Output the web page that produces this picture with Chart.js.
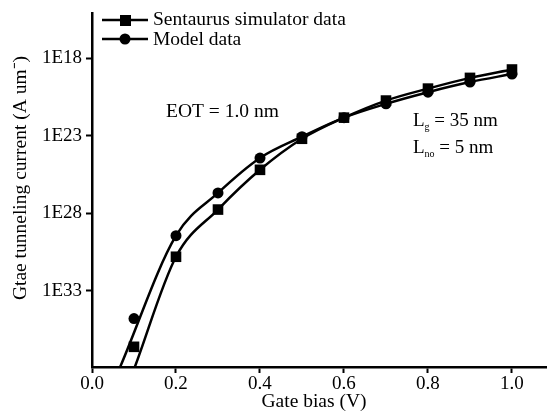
<!DOCTYPE html>
<html>
<head>
<meta charset="utf-8">
<script src="https://cdn.jsdelivr.net/npm/chart.js@4.4.1/dist/chart.umd.min.js"></script>
<style>
  html, body { margin: 0; padding: 0; background: #fff; }
  #wrap { width: 547px; height: 413px; }
</style>
</head>
<body>
<div id="wrap"><canvas id="chart" width="547" height="413"></canvas></div>
<script>
// Gate bias (V) where the markers sit
const biasValues = [0.1, 0.2, 0.3, 0.4, 0.5, 0.6, 0.7, 0.8, 0.9, 1.0];
// exponents (label 1E18 <-> -18)
const simValues = [-36.6, -30.8, -27.76, -25.2, -23.2, -21.84, -20.74, -19.97, -19.28, -18.74];
const modelValues = [-34.78, -29.44, -26.69, -24.44, -23.07, -21.84, -20.95, -20.2, -19.55, -19.03];

// the drawn curves (they run down to the axis)
const simCurveX = [0.102, 0.2, 0.3, 0.4, 0.5, 0.6, 0.7, 0.8, 0.9, 1.0];
const simCurveY = [-37.9, -30.8, -27.76, -25.2, -23.2, -21.84, -20.74, -19.97, -19.28, -18.74];
const modelCurveX = [0.067, 0.2, 0.3, 0.4, 0.5, 0.6, 0.7, 0.8, 0.9, 1.0];
const modelCurveY = [-37.9, -29.44, -26.69, -24.44, -23.07, -21.84, -20.95, -20.2, -19.55, -19.03];

const yTicks = [-18, -23, -28, -33];
const xTicks = [0, 0.2, 0.4, 0.6, 0.8, 1.0];

const FONT = '"Liberation Serif", "Times New Roman", serif';

function pts(xs, ys) {
    return xs.map((x, i) => ({ x: x, y: ys[i] }));
}

// L with a small subscript, then the rest
function subText(ctx, x, y, main, sub, rest) {
    ctx.font = '19px ' + FONT;
    ctx.fillText(main, x, y);
    x += ctx.measureText(main).width;
    ctx.font = '10px ' + FONT;
    ctx.fillText(sub, x, y + 6);
    x += ctx.measureText(sub).width;
    ctx.font = '19px ' + FONT;
    ctx.fillText(rest, x, y);
}

// text overlays: legend, notes, axis titles
const overlay = {
    id: 'overlay',
    afterDraw(chart) {
        const ctx = chart.ctx;
        ctx.save();
        ctx.fillStyle = '#000';
        ctx.strokeStyle = '#000';
        ctx.textBaseline = 'middle';

        // legend
        ctx.lineWidth = 2.5;
        ctx.beginPath(); ctx.moveTo(102, 20); ctx.lineTo(148, 20); ctx.stroke();
        ctx.fillRect(120, 15, 11, 11);
        ctx.beginPath(); ctx.moveTo(102, 39); ctx.lineTo(148, 39); ctx.stroke();
        ctx.beginPath(); ctx.arc(125, 39, 5.5, 0, Math.PI * 2); ctx.fill();
        ctx.font = '19.5px ' + FONT;
        ctx.textAlign = 'left';
        ctx.fillText('Sentaurus simulator data', 153, 20);
        ctx.fillText('Model data', 153, 40);

        // notes
        ctx.font = '19.5px ' + FONT;
        ctx.fillText('EOT = 1.0 nm', 166, 112);
        subText(ctx, 413, 121, 'L', 'g', ' = 35 nm');
        subText(ctx, 413, 148, 'L', 'no', ' = 5 nm');

        // axis titles
        ctx.font = '19.5px ' + FONT;
        ctx.textAlign = 'center';
        ctx.fillText('Gate bias (V)', 314, 402);
        ctx.translate(21, 178);
        ctx.rotate(-Math.PI / 2);
        ctx.fillText('Gtae tunneling current (A um\u207B)', 0, 0);
        ctx.restore();
    }
};

new Chart(document.getElementById('chart').getContext('2d'), {
    type: 'line',
    data: {
        datasets: [
            {
                label: 'Sentaurus curve',
                data: pts(simCurveX, simCurveY),
                borderColor: '#000',
                borderWidth: 2.5,
                pointRadius: 0,
                cubicInterpolationMode: 'monotone'
            },
            {
                label: 'Model curve',
                data: pts(modelCurveX, modelCurveY),
                borderColor: '#000',
                borderWidth: 2.5,
                pointRadius: 0,
                cubicInterpolationMode: 'monotone'
            },
            {
                label: 'Sentaurus simulator data',
                data: pts(biasValues, simValues),
                showLine: false,
                pointStyle: 'rect',
                pointRadius: 7.5,
                borderWidth: 0,
                backgroundColor: '#000',
                borderColor: '#000'
            },
            {
                label: 'Model data',
                data: pts(biasValues, modelValues),
                showLine: false,
                pointStyle: 'circle',
                pointRadius: 5.5,
                borderWidth: 0,
                backgroundColor: '#000',
                borderColor: '#000'
            }
        ]
    },
    options: {
        responsive: false,
        animation: false,
        layout: { autoPadding: false, padding: { left: 0, right: 1, top: 13, bottom: 0 } },
        plugins: {
            legend: { display: false },
            tooltip: { enabled: false }
        },
        scales: {
            x: {
                type: 'linear',
                min: 0,
                max: 1.081,
                afterFit(scale) {
                    scale.height = 46;
                    scale.paddingLeft = 0;
                    scale.paddingRight = 0;
                },
                afterBuildTicks(scale) { scale.ticks = xTicks.map(v => ({ value: v })); },
                grid: {
                    display: true,
                    drawOnChartArea: false,
                    drawTicks: true,
                    tickLength: 6,
                    tickWidth: 2,
                    tickColor: '#000'
                },
                border: { display: true, color: '#000', width: 2.5 },
                ticks: {
                    color: '#000',
                    padding: 0,
                    maxRotation: 0,
                    font: { family: FONT, size: 19 },
                    callback: v => v.toFixed(1)
                }
            },
            y: {
                type: 'linear',
                min: -37.9,
                max: -15.1,
                afterFit(scale) {
                    scale.width = 92;
                    scale.paddingTop = 0;
                    scale.paddingBottom = 0;
                },
                afterBuildTicks(scale) { scale.ticks = yTicks.map(v => ({ value: v })); },
                grid: {
                    display: true,
                    drawOnChartArea: false,
                    drawTicks: true,
                    tickLength: 6,
                    tickWidth: 2,
                    tickColor: '#000'
                },
                border: { display: true, color: '#000', width: 2.5 },
                ticks: {
                    color: '#000',
                    padding: 4,
                    font: { family: FONT, size: 19 },
                    callback: v => '1E' + (-v)
                }
            }
        }
    },
    plugins: [overlay]
});
</script>
</body>
</html>
